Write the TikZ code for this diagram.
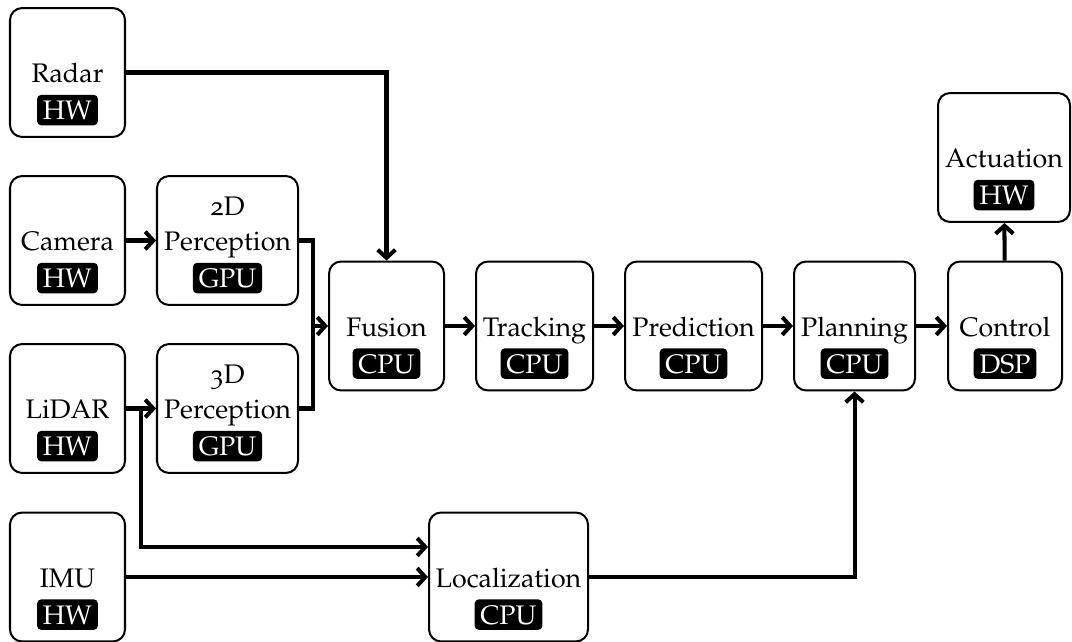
\documentclass[tikz,border=0pt]{standalone}
\usepackage[T1]{fontenc}
\usepackage[osf]{mathpazo}
\usetikzlibrary{arrows.meta}

% one processing block: name, x, y, width, label, processor tag
\newcommand{\blk}[6]{%
  \node[blk, minimum width=#4*0.373pt] (#1) at (#2,#3) {};
  \node[tagbox, anchor=south] (#1-tag) at ([yshift=4.5pt]#1.south) {#6};
  \node[lbl] (#1-txt) at ([yshift=13.8pt]#1-tag.base) {#5};
}

\begin{document}
\begin{tikzpicture}[x=0.373pt, y=-0.373pt,
  blk/.style={draw, line width=0.75pt, rounded corners=4.5pt,
    minimum height=48.1pt, inner sep=0pt},
  tagbox/.style={fill=black, text=white, rounded corners=1.6pt,
    inner xsep=2.2pt, inner ysep=2.1pt, text height=7.2pt, text depth=0pt},
  lbl/.style={inner sep=0pt, anchor=base},
  conn/.style={line width=1.5pt},
  arr/.style={conn, -{Straight Barb[length=3pt,width=6.6pt]}}]

\useasboundingbox (0,0) rectangle (1072,642);

% sensors
\blk{radar}{67.5}{72.5}{115}{Radar}{HW}
\blk{camera}{67.5}{240.5}{115}{Camera}{HW}
\blk{lidar}{67.5}{408.5}{115}{LiDAR}{HW}
\blk{imu}{67.5}{577}{115}{IMU}{HW}

% perception
\blk{p2d}{227.5}{240.5}{141}{Perception}{GPU}
\node[lbl] (p2d-top) at ([yshift=13.05pt]p2d-txt.base) {2D};
\blk{p3d}{227.5}{408.5}{141}{Perception}{GPU}
\node[lbl] (p3d-top) at ([yshift=13.05pt]p3d-txt.base) {3D};

% main pipeline
\blk{fusion}{386.5}{326}{115}{Fusion}{CPU}
\blk{tracking}{534.5}{326}{117}{Tracking}{CPU}
\blk{prediction}{693.5}{326}{137}{Prediction}{CPU}
\blk{planning}{854.5}{326}{121}{Planning}{CPU}
\blk{control}{1005}{326}{114}{Control}{DSP}
\blk{actuation}{1004}{157.5}{132}{Actuation}{HW}
\blk{loc}{508.5}{577}{159}{Localization}{CPU}

% junction points
\coordinate (join) at (313,326);
\coordinate (branch) at (141,408.5);

% connectors
\draw[arr] (radar.east) -| (fusion.north);
\draw[arr] (camera.east) -- (p2d.west);
\draw[arr] (lidar.east) -- (p3d.west);
\draw[conn] (p2d.east) -| (join);
\draw[conn] (p3d.east) -| (join);
\draw[arr] (join) -- (fusion.west);
\draw[arr] (fusion) -- (tracking);
\draw[arr] (tracking) -- (prediction);
\draw[arr] (prediction) -- (planning);
\draw[arr] (planning) -- (control);
\draw[arr] (control) -- (actuation);
\draw[arr] (branch) |- ([yshift=11.2pt]loc.west);
\draw[arr] (imu.east) -- (loc.west);
\draw[arr] (loc.east) -| (planning.south);
\end{tikzpicture}
\end{document}
